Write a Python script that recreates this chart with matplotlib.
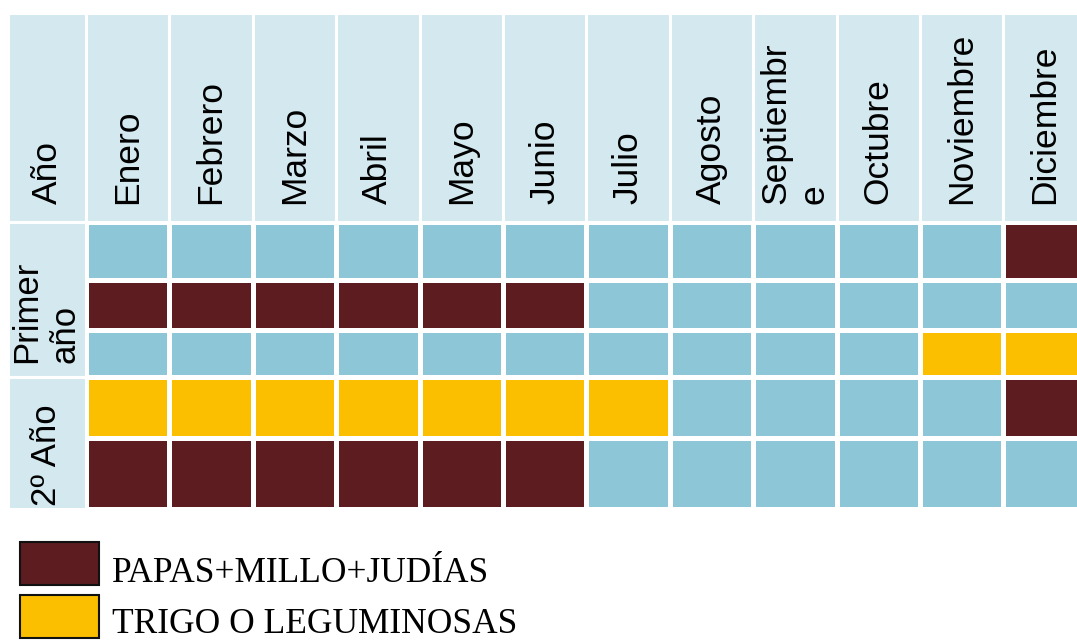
import numpy as np
import matplotlib.pyplot as plt
from matplotlib.patches import Rectangle
from matplotlib.colors import ListedColormap

# datos de la rotacion de cultivos
meses = ["Enero", "Febrero", "Marzo", "Abril", "Mayo", "Junio", "Julio",
         "Agosto", "Septiembr\ne", "Octubre", "Noviembre", "Diciembre"]
anios = ["Primer\naño", "2º Año"]
filas_por_anio = [3, 2]

# 0 = sin cultivo, 1 = papas+millo+judias, 2 = trigo o leguminosas
fila1 = [0, 0, 0, 0, 0, 0, 0, 0, 0, 0, 0, 1]
fila2 = [1, 1, 1, 1, 1, 1, 0, 0, 0, 0, 0, 0]
fila3 = [0, 0, 0, 0, 0, 0, 0, 0, 0, 0, 2, 2]
fila4 = [2, 2, 2, 2, 2, 2, 2, 0, 0, 0, 0, 1]
fila5 = [1, 1, 1, 1, 1, 1, 0, 0, 0, 0, 0, 0]

leyenda = ["PAPAS+MILLO+JUDÍAS", "TRIGO O LEGUMINOSAS"]

c_cab = "#d3e9ef"
c_azul = "#8cc6d7"
c_rojo = "#5c1c20"
c_amar = "#fbbf00"


def main():
    fig = plt.figure(figsize=(10.77, 6.41), dpi=100)
    ax = fig.add_axes([0, 0, 1, 1])
    ax.set_xlim(0, 1077)
    ax.set_ylim(641, 0)
    ax.axis("off")

    # geometria de la tabla (pixeles)
    x0, x_mes, ancho = 8, 86, 83.4
    y_top, y_cab = 13, 222
    alturas = [58, 50, 47, 61, 71]
    x_edges = x_mes + ancho * np.arange(len(meses) + 1)
    y_edges = y_cab + np.concatenate([[0], np.cumsum(alturas)])

    datos = np.array([fila1, fila2, fila3, fila4, fila5])
    cmap = ListedColormap([c_azul, c_rojo, c_amar])
    ax.pcolormesh(x_edges, y_edges, datos, cmap=cmap, vmin=-0.5, vmax=2.5,
                  edgecolor="white", linewidth=2.2)

    # cabecera
    ax.add_patch(Rectangle((x0, y_top), x_mes - x0, y_cab - y_top,
                           facecolor=c_cab, edgecolor="white", lw=2.2))
    ax.text((x0 + x_mes) / 2, 204, "Año", rotation=90, ha="center",
            va="bottom", fontsize=25.5, family="Liberation Sans")
    for i, m in enumerate(meses):
        ax.add_patch(Rectangle((x_edges[i], y_top), ancho, y_cab - y_top,
                               facecolor=c_cab, edgecolor="white", lw=2.2))
        ax.text(x_edges[i] + ancho / 2, 204, m, rotation=90, ha="center",
                va="bottom", fontsize=25.5, family="Liberation Sans",
                multialignment="left")

    # columna de años
    fila = 0
    for a, n in zip(anios, filas_por_anio):
        ya, yb = y_edges[fila], y_edges[fila + n]
        ax.add_patch(Rectangle((x0, ya), x_mes - x0, yb - ya,
                               facecolor=c_cab, edgecolor="white", lw=2.2))
        ax.text((x0 + x_mes) / 2 - 1, (ya + yb) / 2 + 12, a, rotation=90,
                ha="center", va="center", fontsize=25,
                family="Liberation Sans", multialignment="left")
        fila += n

    # leyenda
    for k, (txt, col) in enumerate(zip(leyenda, [c_rojo, c_amar])):
        y = 542 + 53 * k
        ax.add_patch(Rectangle((20, y), 79, 43, facecolor=col,
                               edgecolor="#111111", lw=1.5))
        ax.text(112, y + 40 - 2 * k, txt, ha="left", va="baseline",
                fontsize=25.5, family="Liberation Serif")

    fig.savefig("out.png", dpi=100)


if __name__ == "__main__":
    main()
